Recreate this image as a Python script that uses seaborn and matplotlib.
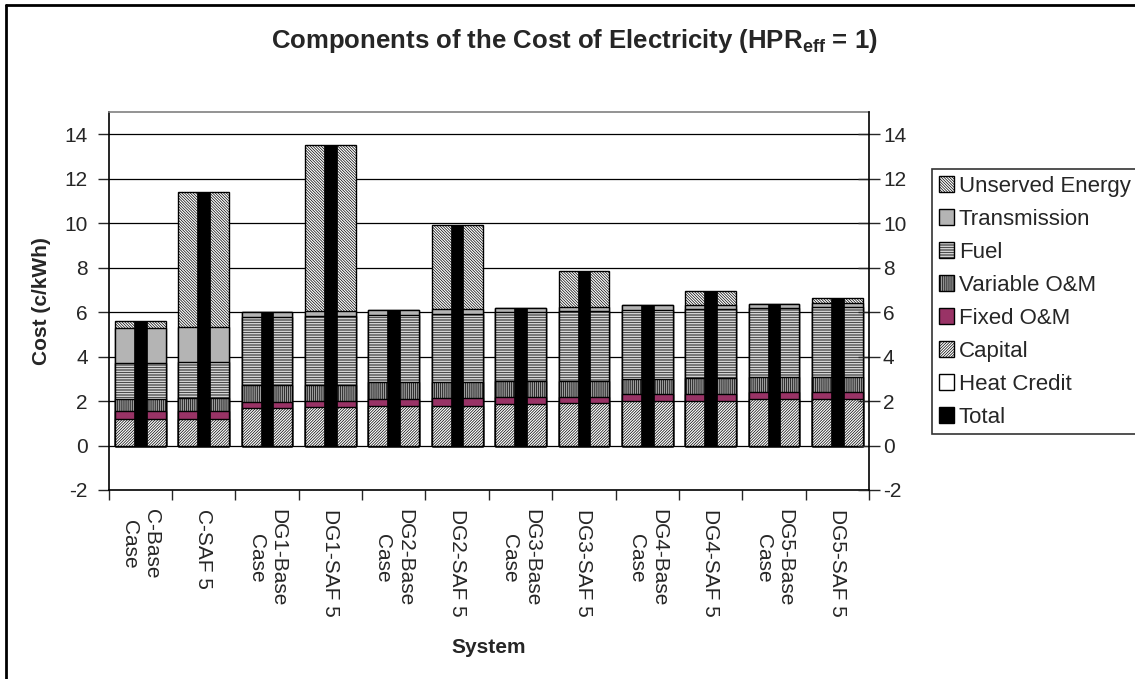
import numpy as np
import pandas as pd
import matplotlib
matplotlib.use("Agg")
import matplotlib.pyplot as plt
import seaborn as sns
from matplotlib.patches import Patch
from matplotlib.lines import Line2D

# -----------------------------
# Data (c/kWh)
# -----------------------------
systems = ["C-Base\nCase", "C-SAF 5", "DG1-Base\nCase", "DG1-SAF 5", "DG2-Base\nCase", "DG2-SAF 5",
           "DG3-Base\nCase", "DG3-SAF 5", "DG4-Base\nCase", "DG4-SAF 5", "DG5-Base\nCase", "DG5-SAF 5"]
heat_credit = [0, 0, 0, 0, 0, 0, 0, 0, 0, 0, 0, 0]
capital = [1.17, 1.19, 1.68, 1.72, 1.77, 1.78, 1.87, 1.89, 1.99, 1.99, 2.07, 2.07]
fixed_om = [0.37, 0.37, 0.27, 0.28, 0.33, 0.36, 0.33, 0.31, 0.31, 0.31, 0.33, 0.33]
variable_om = [0.55, 0.56, 0.76, 0.73, 0.75, 0.71, 0.72, 0.72, 0.70, 0.72, 0.70, 0.70]
fuel = [1.61, 1.62, 3.06, 3.08, 3.02, 3.07, 3.08, 3.12, 3.10, 3.14, 3.08, 3.14]
transmission = [1.58, 1.60, 0.23, 0.23, 0.21, 0.22, 0.20, 0.18, 0.22, 0.16, 0.19, 0.16]
unserved = [0.30, 6.08, 0.00, 7.46, 0.00, 3.80, 0.00, 1.64, 0.00, 0.62, 0.00, 0.23]
total = [5.58, 11.42, 6.00, 13.50, 6.08, 9.94, 6.20, 7.86, 6.32, 6.94, 6.37, 6.63]

df = pd.DataFrame({"System": systems, "Capital": capital, "Fixed O&M": fixed_om,
                   "Variable O&M": variable_om, "Fuel": fuel, "Transmission": transmission,
                   "Unserved Energy": unserved, "Total": total})

# stacking order bottom -> top, with the look of each piece
stack = ["Capital", "Fixed O&M", "Variable O&M", "Fuel", "Transmission", "Unserved Energy"]
styles = {
    "Unserved Energy": dict(color="white", hatch="\\" * 12),
    "Transmission": dict(color="#b4b4b4", hatch=None),
    "Fuel": dict(color="white", hatch="-" * 10),
    "Variable O&M": dict(color="#9c9c9c", hatch="|" * 8),
    "Fixed O&M": dict(color="#993366", hatch=None),
    "Capital": dict(color="white", hatch="/" * 12),
    "Heat Credit": dict(color="white", hatch=None),
    "Total": dict(color="black", hatch=None),
}

sns.set_style("white")
plt.rcParams["font.family"] = ["Liberation Sans", "DejaVu Sans"]
plt.rcParams["mathtext.fontset"] = "custom"
plt.rcParams["mathtext.rm"] = "Liberation Sans"
plt.rcParams["mathtext.bf"] = "Liberation Sans:bold"
plt.rcParams["hatch.linewidth"] = 0.5
FS = 15

fig = plt.figure(figsize=(11.35, 6.79), dpi=100)
ax = fig.add_axes([0.0957, 0.2784, 0.67, 0.5566])

# gridlines
for v in range(0, 16, 2):
    ax.axhline(v, color="black", lw=0.9, zorder=0)

# stacked bars: draw cumulative heights from the top piece down
cum = df[stack].cumsum(axis=1)
for name in reversed(stack):
    st = styles[name]
    sns.barplot(x=df["System"], y=cum[name], color=st["color"], saturation=1, width=0.8,
                edgecolor="black", linewidth=1.0, hatch=st["hatch"], ax=ax, zorder=2)

# total as narrow black bar
sns.barplot(x=df["System"], y=df["Total"], color="black", saturation=1, width=0.2,
            edgecolor="black", linewidth=0.5, ax=ax, zorder=3)

ax.set_ylim(-2, 15)
ax.set_xlim(-0.5, len(systems) - 0.5)
ax.set_yticks(range(-2, 16, 2))
ax.set_yticklabels([str(v) for v in range(-2, 16, 2)], fontsize=FS)
ax.tick_params(axis="y", direction="out", length=8, width=1, pad=7, left=True)

# category boundaries as ticks, names in between
ax.set_xticks(np.arange(-0.5, len(systems), 1.0))
ax.set_xticklabels([])
ax.set_xticks(np.arange(len(systems)), minor=True)
ax.set_xticklabels(systems, minor=True, rotation=270, fontsize=FS,
                   ha="center", va="top", multialignment="center")
ax.tick_params(axis="x", which="major", direction="out", length=7, width=1, bottom=True)
ax.tick_params(axis="x", which="minor", length=0, pad=14)

ax.set_xlabel("System", fontsize=FS, fontweight="bold", labelpad=15)
ax.set_ylabel("Cost (c/kWh)", fontsize=FS, fontweight="bold", labelpad=10)

for side in ["left", "bottom"]:
    ax.spines[side].set_color("black")
    ax.spines[side].set_linewidth(1.2)
ax.spines["top"].set_color("#808080")
ax.spines["top"].set_linewidth(1.2)
ax.spines["right"].set_visible(False)

# secondary axis on the right
ax2 = ax.twinx()
ax2.set_ylim(-2, 15)
ax2.set_yticks(range(-2, 16, 2))
ax2.set_yticklabels([str(v) for v in range(-2, 16, 2)], fontsize=FS)
ax2.tick_params(axis="y", direction="inout", length=16, width=1, pad=2)
for side in ["left", "top", "bottom"]:
    ax2.spines[side].set_visible(False)
ax2.spines["right"].set_color("black")
ax2.spines["right"].set_linewidth(1.2)

# title
fig.text(0.506, 0.94, r"Components of the Cost of Electricity (HPR$_\mathbf{eff}$ = 1)",
         ha="center", va="center", fontsize=18.5, fontweight="bold")

# legend
legend_order = ["Unserved Energy", "Transmission", "Fuel", "Variable O&M", "Fixed O&M",
                "Capital", "Heat Credit", "Total"]
handles = [Patch(facecolor=styles[n]["color"], hatch=styles[n]["hatch"], edgecolor="black",
                 linewidth=1.0, label=n) for n in legend_order]
leg = fig.legend(handles=handles, loc="upper left", bbox_to_anchor=(932 / 1135, 1 - 169 / 679),
                 bbox_transform=fig.transFigure, fontsize=16, frameon=True, fancybox=False,
                 handlelength=0.7, handleheight=0.7, handletextpad=0.2, labelspacing=0.54,
                 borderpad=0.3, borderaxespad=0)
leg.get_frame().set_edgecolor("black")
leg.get_frame().set_linewidth(1.2)

# outer chart border (top and left visible)
fig.add_artist(Line2D([6 / 1135, 1], [1 - 5 / 679, 1 - 5 / 679], color="black", lw=2,
                      transform=fig.transFigure))
fig.add_artist(Line2D([6 / 1135, 6 / 1135], [0, 1 - 5 / 679], color="black", lw=2,
                      transform=fig.transFigure))

fig.savefig("out.png", dpi=100)
plt.close(fig)
